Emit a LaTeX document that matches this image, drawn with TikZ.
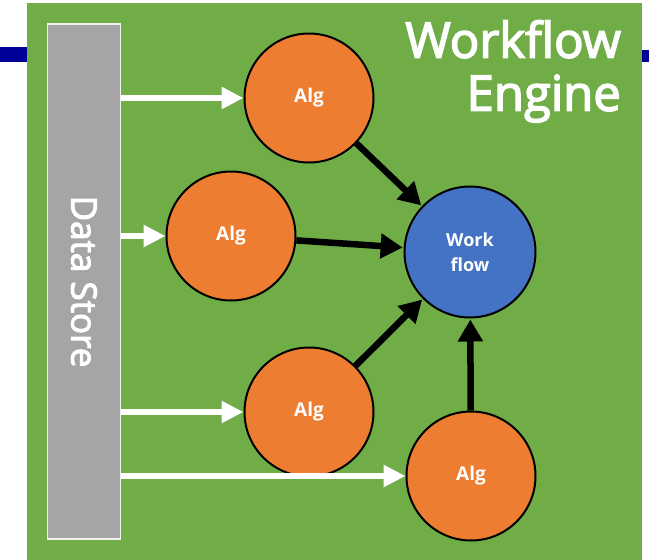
\documentclass[tikz,border=0pt]{standalone}
\usepackage{fontspec}
\setmainfont{Open Sans}
\newfontfamily\medfont[FakeBold=3]{Open Sans}
\usetikzlibrary{arrows.meta}
\definecolor{bggreen}{HTML}{70AD47}
\definecolor{algorange}{HTML}{ED7D31}
\definecolor{wfblue}{HTML}{4472C4}
\definecolor{dsgray}{HTML}{A5A5A5}
\definecolor{barblue}{HTML}{000099}
\tikzset{
  alg/.style={circle, draw=black, line width=2pt, fill=algorange, minimum size=129pt, inner sep=0pt, text=white, font=\fontsize{19}{22}\selectfont\bfseries},
  wf/.style={circle, draw=black, line width=2pt, fill=wfblue, minimum size=131pt, inner sep=0pt, text=white, align=center, font=\fontsize{18}{25}\selectfont\bfseries},
  feed/.style={draw=white, line width=6pt, -{Triangle[length=22pt,width=21pt]}},
  flow/.style={draw=black, line width=6.5pt, -{Triangle[length=22pt,width=24pt]}, shorten >=1pt}
}
\begin{document}
\begin{tikzpicture}[x=1pt,y=-1pt]
\useasboundingbox (0,0) rectangle (649,560);
\fill[white] (0,0) rectangle (649,560);
\fill[barblue] (0,47) rectangle (30,62);
\fill[barblue] (640,50) rectangle (649,62);
\fill[bggreen] (27,3) rectangle (642,560);
\node[draw=white!85!dsgray, line width=1.2pt, fill=dsgray, minimum width=73pt, minimum height=515pt, inner sep=0pt] (ds) at (84,281.5) {};
\node[rotate=-90, text=white, font=\medfont\fontsize{35}{40}\selectfont] (dslabel) at (ds.center) {Data Store};
\node[anchor=north east, align=right, text=white, inner sep=0pt, font=\medfont\fontsize{49}{53}\selectfont] (title) at (621,20) {Workflow\\Engine};
\node[alg] (a1) at (309,98) {Alg};
\node[alg] (a2) at (231,236) {Alg};
\node[alg] (a3) at (309,412) {Alg};
\node[alg] (a4) at (471,476) {Alg};
\node[wf] (w) at (470,252) {Work\\flow};
\coordinate (s1) at (ds.east |- a1.west);
\coordinate (s2) at (ds.east |- a2.west);
\coordinate (s3) at (ds.east |- a3.west);
\coordinate (s4) at (ds.east |- a4.west);
\draw[feed] (s1) -- (a1.west);
\draw[feed] (s2) -- (a2.west);
\draw[feed] (s3) -- (a3.west);
\draw[feed] (s4) -- (a4.west);
\draw[flow] (a1) -- (w);
\draw[flow] (a2) -- (w);
\draw[flow] (a3) -- (w);
\draw[flow] (a4) -- (w);
\end{tikzpicture}
\end{document}
